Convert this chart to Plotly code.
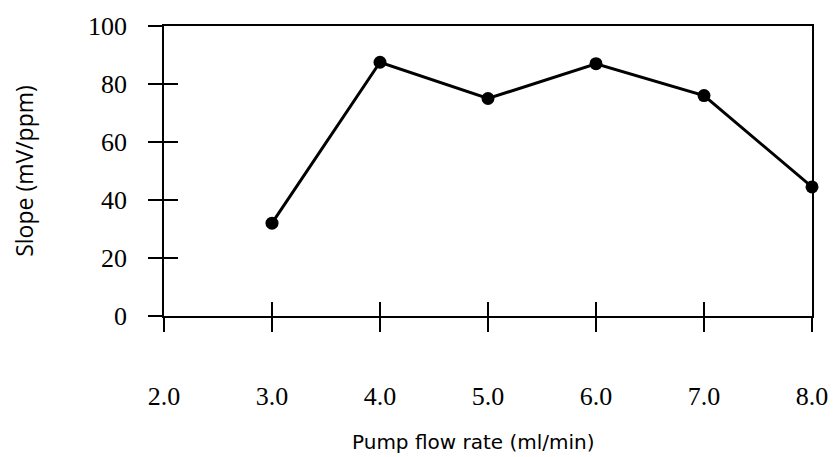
"""Slope vs pump flow rate line chart."""

import plotly.graph_objects as go

flow_rate = [3.0, 4.0, 5.0, 6.0, 7.0, 8.0]
slope = [32, 87.5, 75, 87, 76, 44.5]

x_ticks = [2.0, 3.0, 4.0, 5.0, 6.0, 7.0, 8.0]
x_tick_labels = ["2.0", "3.0", "4.0", "5.0", "6.0", "7.0", "8.0"]
y_ticks = [0, 20, 40, 60, 80, 100]

x_title = "Pump flow rate (ml/min)"
y_title = "Slope (mV/ppm)"

serif = dict(family="Liberation Serif", size=26, color="black")

fig = go.Figure()
fig.add_trace(
    go.Scatter(
        x=flow_rate,
        y=slope,
        mode="lines+markers",
        line=dict(color="black", width=3),
        marker=dict(color="black", size=13),
        showlegend=False,
        cliponaxis=False,
    )
)
# invisible copy so the overlay axes (inside half of the crossing ticks) get drawn
fig.add_trace(
    go.Scatter(
        x=flow_rate,
        y=slope,
        mode="markers",
        marker=dict(opacity=0),
        xaxis="x2",
        yaxis="y2",
        hoverinfo="skip",
        showlegend=False,
    )
)

tick_style = dict(
    ticklen=14, tickwidth=1.5, tickcolor="black", showgrid=False, zeroline=False, automargin=False
)

# the page body has an 8px margin, so the figure is 8px smaller than the window
fig.update_layout(
    width=829,
    height=449,
    paper_bgcolor="white",
    plot_bgcolor="white",
    margin=dict(l=156, r=25, t=18, b=141, autoexpand=False),
    xaxis=dict(
        range=[2, 8],
        tickvals=x_ticks,
        ticktext=x_tick_labels,
        ticks="outside",
        showline=True,
        linecolor="black",
        linewidth=1.5,
        mirror=True,
        tickfont=serif,
        ticklabelstandoff=42,
        **tick_style,
    ),
    yaxis=dict(
        range=[0, 100],
        tickvals=y_ticks,
        ticks="outside",
        showline=True,
        linecolor="black",
        linewidth=1.5,
        mirror=True,
        tickfont=serif,
        ticklabelstandoff=16,
        title=dict(
            text=y_title,
            font=dict(family="Open Sans", size=23, color="black"),
            standoff=52,
        ),
        **tick_style,
    ),
    xaxis2=dict(
        overlaying="x",
        anchor="y2",
        side="bottom",
        range=[2, 8],
        tickvals=x_ticks,
        ticks="inside",
        showticklabels=False,
        **tick_style,
    ),
    yaxis2=dict(
        overlaying="y",
        anchor="x2",
        side="left",
        range=[0, 100],
        tickvals=y_ticks,
        ticks="inside",
        showticklabels=False,
        **tick_style,
    ),
)

# x title sits a little left of the plot centre in the original
fig.add_annotation(
    text=x_title,
    xref="paper",
    yref="paper",
    x=0.478,
    y=0,
    xanchor="center",
    yanchor="middle",
    yshift=-126,
    showarrow=False,
    font=dict(family="DejaVu Sans", size=20, color="black"),
)

fig.write_html("out.html")
